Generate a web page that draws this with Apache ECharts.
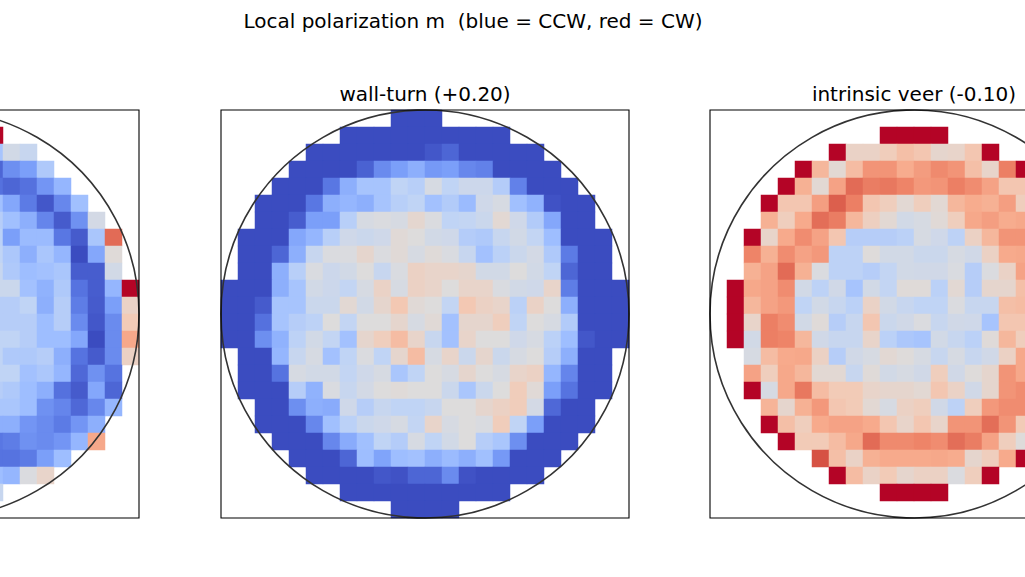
<!DOCTYPE html>
<html>
<head>
<meta charset="utf-8">
<script src="https://cdn.jsdelivr.net/npm/echarts@6/dist/echarts.min.js"></script>
<style>
html,body{margin:0;padding:0;background:#fff;overflow:hidden;width:1025px;height:577px;}
#wrap{position:relative;width:1025px;height:577px;overflow:hidden;}
#chart{position:absolute;left:-269px;top:0;width:1387px;height:577px;}
</style>
</head>
<body>
<div id="wrap"><div id="chart"></div></div>
<script>
const n = null;

// 24 x 24 grid cells per panel
const cellLabels = Array.from({length: 24}, (_, i) => String(i));

const figureTitle = 'Local polarization m  (blue = CCW, red = CW)';
const panelTitles = ['', 'wall-turn (+0.20)', 'intrinsic veer (-0.10)'];

// Left panel: only columns 15..23 are inside the reference crop
const leftPanelFirstCol = 15;
const leftPanel = [
  [n,n,n,n,n,n,n,n,n],
  [1,n,n,n,n,n,n,n,n],
  [-.35,-.08,-.15,n,n,n,n,n,n],
  [-.88,-.68,-.6,-.3,n,n,n,n,n],
  [-.83,-.88,-.83,-.65,-.45,n,n,n,n],
  [-.38,-.55,-.78,-.95,-.72,-.38,n,n,n],
  [-.26,-.38,-.5,-.73,-.93,-.67,-.07,n,n],
  [-.23,-.6,-.42,-.42,-.8,-.93,-.33,.7,n],
  [-.2,-.32,-.5,-.33,-.45,-1,-.55,.02,n],
  [-.15,-.3,-.4,-.37,-.33,-.92,-.92,-.08,n],
  [-.13,-.13,-.37,-.48,-.3,-.82,-.92,-.45,1],
  [-.26,-.26,-.2,-.5,-.26,-.77,-.93,-.6,.12],
  [-.26,-.26,-.26,-.4,-.26,-.7,-.95,-.7,.2],
  [-.2,-.2,-.26,-.4,-.4,-.55,-1,-.7,.42],
  [-.2,-.3,-.3,-.26,-.5,-.82,-.93,-.7,.13],
  [-.2,-.2,-.37,-.32,-.45,-.87,-.67,-.82,n],
  [-.26,-.3,-.4,-.5,-.83,-.93,-.55,-.88,n],
  [-.33,-.33,-.4,-.67,-.73,-.87,-.72,-.45,n],
  [-.5,-.5,-.65,-.7,-.78,-.65,-.5,n,n],
  [-.8,-.77,-.67,-.7,-.65,-.45,.42,n,n],
  [-.82,-.82,-.78,-.6,-.4,n,n,n,n],
  [-.4,-.45,-.02,.1,n,n,n,n,n],
  [-.15,n,n,n,n,n,n,n,n],
  [n,n,n,n,n,n,n,n,n]
];

// wall-turn (+0.20): full 24 columns
const wallTurnFirstCol = 0;
const wallTurn = [
  [n,n,n,n,n,n,n,n,n,n,-1,-1,-1,n,n,n,n,n,n,n,n,n,n,n],
  [n,n,n,n,n,n,n,-1,-1,-1,-1,-1,-1,-1,-1,-1,-1,n,n,n,n,n,n,n],
  [n,n,n,n,n,-1,-1,-1,-1,-1,-1,-1,-.95,-.88,-1,-1,-1,-1,-1,n,n,n,n,n],
  [n,n,n,n,-1,-1,-1,-1,-.9,-.7,-.6,-.5,-.63,-.6,-.72,-.75,-1,-1,-1,-1,n,n,n,n],
  [n,n,n,-1,-1,-1,-.8,-.5,-.35,-.35,-.2,-.25,-.05,-.2,-.12,-.12,-.27,-.75,-1,-1,-1,n,n,n],
  [n,n,-1,-1,-1,-.8,-.5,-.45,-.5,-.35,-.25,-.2,-.37,-.28,-.42,-.1,-.05,-.38,-.48,-.97,-1,-1,n,n],
  [n,n,-1,-1,-.92,-.6,-.6,-.25,-.05,-.02,-.05,.07,-.02,-.2,-.18,-.13,.05,-.1,-.28,-.55,-1,-1,n,n],
  [n,-1,-1,-1,-.55,-.45,-.25,-.1,-.13,-.1,.03,0,-.08,-.1,-.27,-.3,-.15,-.08,-.18,-.4,-1,-1,-1,n],
  [n,-1,-1,-.88,-.5,-.15,-.02,-.02,.08,-.02,.03,-.05,.02,-.03,-.15,-.37,-.23,-.13,-.07,-.3,-.78,-1,-1,n],
  [n,-1,-1,-.5,-.25,-.03,-.12,-.08,0,-.15,-.03,.13,.1,.1,.08,-.08,-.08,0,-.08,-.2,-.88,-1,-1,n],
  [-1,-1,-1,-.5,-.35,-.08,-.12,-.18,-.05,.12,-.05,.13,.1,0,.1,.1,-.03,-.08,-.1,.1,-.77,-1,-1,-1],
  [-1,-1,-.93,-.35,-.35,-.13,-.13,.05,-.08,.08,.22,.03,0,-.18,.22,.13,.1,-.23,.12,0,-.5,-1,-1,-1],
  [-1,-1,-.83,-.35,-.26,-.22,0,-.18,0,0,.08,-.05,.03,-.37,.08,.08,.17,-.2,0,-.05,-.28,-1,-1,-1],
  [-1,-1,-.68,-.48,-.22,-.08,-.18,-.37,.08,.17,.3,.1,-.15,-.37,.1,0,0,-.1,-.05,-.23,-.4,-.95,-1,-1],
  [n,-1,-1,-.45,-.15,-.05,-.37,-.2,-.02,-.2,.08,.3,-.05,.1,-.13,.08,-.13,-.05,0,-.26,-.5,-1,-1,n],
  [n,-1,-1,-.82,-.05,-.08,-.08,-.18,-.1,-.05,-.33,-.2,0,-.05,.08,0,-.05,.1,.13,-.45,-.73,-1,-1,n],
  [n,-1,-1,-1,-.26,-.48,-.03,-.15,-.07,0,.02,0,0,-.13,-.33,-.13,0,.18,.03,-.6,-.82,-1,-1,n],
  [n,n,-1,-1,-.68,-.5,-.52,-.1,-.26,-.15,-.2,-.2,-.15,0,0,.08,.13,.18,-.07,-.87,-1,-1,n,n],
  [n,n,-1,-1,-1,-.72,-.38,-.23,-.13,-.1,-.05,-.18,.1,-.05,0,-.03,.18,-.2,-.6,-1,-1,-1,n,n],
  [n,n,n,-1,-1,-1,-.72,-.52,-.38,-.2,-.27,-.05,-.2,-.08,0,-.26,-.33,-.68,-1,-1,-1,n,n,n],
  [n,n,n,n,-1,-1,-1,-.88,-.4,-.57,-.4,-.37,-.5,-.42,-.5,-.38,-.63,-1,-1,-1,n,n,n,n],
  [n,n,n,n,n,-1,-1,-1,-1,-.95,-.97,-.88,-.88,-.7,-.97,-1,-1,-1,-1,n,n,n,n,n],
  [n,n,n,n,n,n,n,-1,-1,-1,-1,-1,-1,-1,-1,-1,-1,n,n,n,n,n,n,n],
  [n,n,n,n,n,n,n,n,n,n,-1,-1,-1,-1,n,n,n,n,n,n,n,n,n,n]
];

// intrinsic veer (-0.10): only columns 0..18 are inside the reference crop
const intrinsicVeerFirstCol = 0;
const intrinsicVeer = [
  [n,n,n,n,n,n,n,n,n,n,n,n,n,n,n,n,n,n,n],
  [n,n,n,n,n,n,n,n,n,n,1,1,1,1,n,n,n,n,n],
  [n,n,n,n,n,n,n,1,.12,.12,.18,.28,.23,.08,.1,.23,1,n,n],
  [n,n,n,n,n,1,.33,.05,.3,.52,.52,.4,.48,.57,.52,.28,.1,.62,1],
  [n,n,n,n,1,.37,.05,.45,.7,.63,.65,.6,.5,.52,.62,.56,.45,.23,.23],
  [n,n,n,1,.23,.23,.47,.75,.62,.23,.17,.05,.17,.05,.33,.4,.37,.47,.17],
  [n,n,n,.37,.17,.41,.69,.63,.33,.15,.05,-.08,-.05,.03,.17,.42,.47,.4,.42],
  [n,n,1,.1,.41,.56,.45,.23,-.26,-.26,-.26,-.23,-.05,-.1,-.22,.13,.33,.52,.52],
  [n,n,.6,.37,.56,.45,.5,-.22,-.22,.01,-.08,-.08,-.13,-.13,-.05,-.09,.13,.41,.42],
  [n,n,.37,.45,.7,.37,-.02,-.22,-.22,-.26,-.18,-.08,-.09,-.09,-.03,-.26,-.02,.12,.45],
  [n,1,.42,.45,.56,-.08,-.22,-.09,-.35,-.08,-.18,.02,.02,-.23,.05,-.26,.08,.08,.28],
  [n,1,.33,.45,.5,-.2,-.08,-.15,-.23,.12,-.08,-.15,-.2,-.2,-.02,-.15,-.15,.28,.3],
  [n,1,.1,.62,.56,-.08,.02,-.26,-.15,.23,-.13,-.09,-.02,-.15,-.09,-.1,-.35,.23,.23],
  [n,1,-.08,.62,.6,.33,-.09,-.15,-.15,.1,-.23,-.32,-.35,-.08,-.15,-.23,.02,.33,.17],
  [n,n,-.05,.3,.41,.42,.13,-.26,-.09,-.05,.05,.01,-.05,-.15,-.05,-.15,-.09,.13,.42],
  [n,n,.45,.17,.42,.33,.05,.05,-.15,.02,-.08,-.05,-.09,.17,-.09,.01,.08,.52,.42],
  [n,n,1,-.05,.42,.65,.3,.2,.2,.1,.08,.08,.05,.23,.12,-.09,.08,.52,.56],
  [n,n,n,.35,.08,.37,.5,.23,.2,.05,-.05,.13,.17,-.09,-.22,.17,.5,.56,.56],
  [n,n,n,1,.28,.17,.41,.45,.45,.41,.23,.1,.23,.1,.52,.52,.69,.52,.2],
  [n,n,n,n,1,.2,.2,.3,.42,.7,.57,.57,.6,.56,.69,.63,.45,.17,.01],
  [n,n,n,n,n,n,.8,.28,.12,.37,.41,.41,.41,.42,.4,.08,.17,.41,1],
  [n,n,n,n,n,n,n,1,.3,.12,.2,.08,.13,.13,-.02,.17,1,n,n],
  [n,n,n,n,n,n,n,n,n,n,1,1,1,1,n,n,n,n,n],
  [n,n,n,n,n,n,n,n,n,n,n,n,n,n,n,n,n,n,n]
];

// matplotlib "coolwarm" sampled at 11 points
const coolwarm = ['#3b4cc0','#5977e3','#7b9ff9','#9ebeff','#c0d4f5','#dddcdc','#f2cbb7','#f7ac8e','#ee8468','#d65244','#b40426'];

// ---- layout (positions / styles); the chart canvas is wider than the view and shifted left ----
const SHIFT = 269;
const PANEL = 408, TOP = 110;
const LEFTS = [0, 490, 979];
const FONT = '20px "DejaVu Sans", sans-serif';

function toCells(rows, firstCol) {
  const out = [];
  rows.forEach((row, r) => row.forEach((v, c) => {
    if (v !== null) out.push([c + firstCol, r, v]);
  }));
  return out;
}

const panels = [
  toCells(leftPanel, leftPanelFirstCol),
  toCells(wallTurn, wallTurnFirstCol),
  toCells(intrinsicVeer, intrinsicVeerFirstCol)
];

const chart = echarts.init(document.getElementById('chart'), null, {renderer: 'svg'});

const graphic = [{
  type: 'text', x: 473 + SHIFT, y: 21, z: 200,
  style: {text: figureTitle, font: FONT, fill: '#000', textAlign: 'center', textVerticalAlign: 'middle'}
}];
LEFTS.forEach((l, i) => {
  if (panelTitles[i]) {
    graphic.push({
      type: 'text', x: l + PANEL / 2, y: 94, z: 200,
      style: {text: panelTitles[i], font: FONT, fill: '#000', textAlign: 'center', textVerticalAlign: 'middle'}
    });
  }
  graphic.push({
    type: 'circle', z: 150, silent: true,
    shape: {cx: l + PANEL / 2, cy: TOP + PANEL / 2, r: PANEL / 2},
    style: {fill: 'none', stroke: '#333', lineWidth: 1.6}
  });
  graphic.push({
    type: 'rect', z: 160, silent: true,
    shape: {x: l, y: TOP, width: PANEL, height: PANEL},
    style: {fill: 'none', stroke: '#000', lineWidth: 1.1}
  });
});

const hiddenAxis = {
  type: 'category', data: cellLabels,
  axisLine: {show: false}, axisTick: {show: false}, axisLabel: {show: false},
  splitLine: {show: false}, splitArea: {show: false}
};

chart.setOption({
  animation: false,
  backgroundColor: '#fff',
  grid: LEFTS.map(l => ({left: l, top: TOP, width: PANEL, height: PANEL, containLabel: false})),
  xAxis: LEFTS.map((_, i) => Object.assign({gridIndex: i}, hiddenAxis)),
  yAxis: LEFTS.map((_, i) => Object.assign({gridIndex: i, inverse: true}, hiddenAxis)),
  visualMap: {
    type: 'continuous', show: false, min: -1, max: 1,
    seriesIndex: [0, 1, 2], dimension: 2,
    inRange: {color: coolwarm}
  },
  series: panels.map((data, i) => ({
    type: 'heatmap', xAxisIndex: i, yAxisIndex: i,
    data: data, progressive: 0,
    emphasis: {disabled: true}, silent: true
  })),
  graphic: graphic
});
</script>
</body>
</html>
